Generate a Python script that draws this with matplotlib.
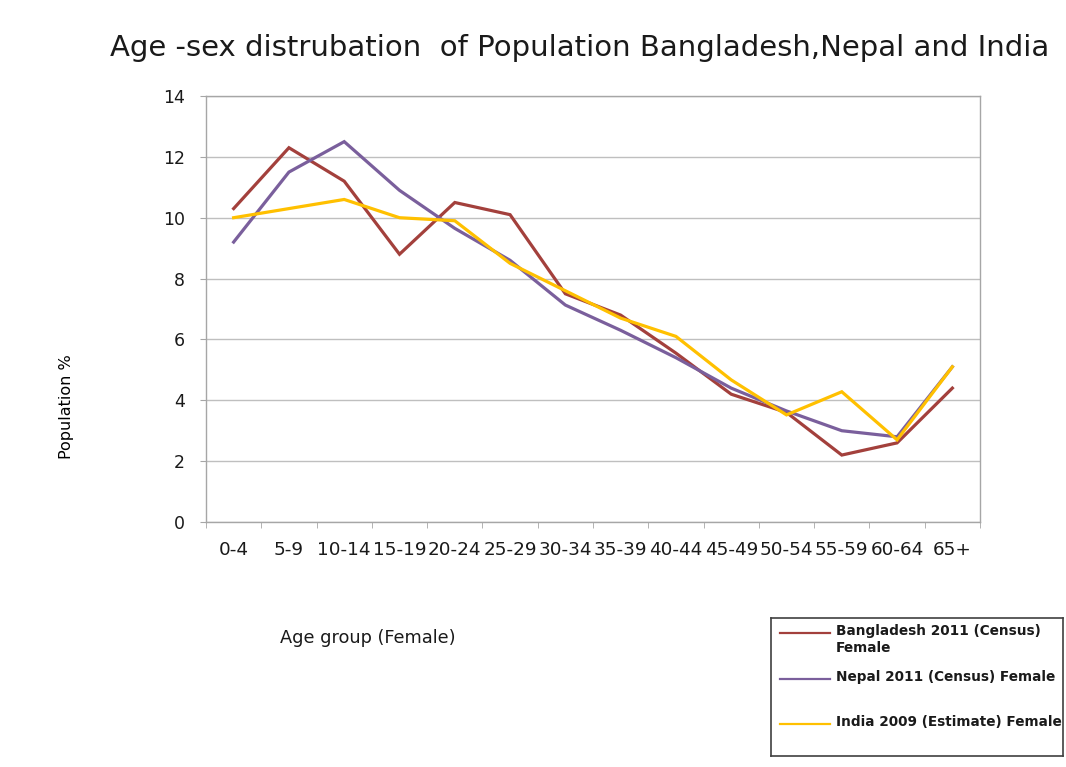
import numpy as np
import matplotlib
matplotlib.use("Agg")
import matplotlib.pyplot as plt

# Female population share (%) by five-year age group
age_groups = ["0-4", "5-9", "10-14", "15-19", "20-24", "25-29", "30-34",
              "35-39", "40-44", "45-49", "50-54", "55-59", "60-64", "65+"]
bangladesh_2011 = [10.3, 12.3, 11.2, 8.8, 10.5, 10.1, 7.5,
                   6.8, 5.55, 4.2, 3.6, 2.2, 2.6, 4.4]
nepal_2011 = [9.2, 11.5, 12.5, 10.9, 9.65, 8.6, 7.13,
              6.3, 5.4, 4.4, 3.65, 3.0, 2.8, 5.1]
india_2009 = [10.0, 10.3, 10.6, 10.0, 9.9, 8.5, 7.6,
              6.7, 6.1, 4.67, 3.52, 4.28, 2.7, 5.1]

series_labels = ["Bangladesh 2011 (Census)\nFemale",
                 "Nepal 2011 (Census) Female",
                 "India 2009 (Estimate) Female"]
series_colors = ["#A3403C", "#7A5F9C", "#FFC000"]

W, H = 1066, 767
fig = plt.figure(figsize=(W / 100, H / 100), dpi=100)
fig.patch.set_facecolor("white")

ax = fig.add_axes([206 / W, (H - 522) / H, 774 / W, 426 / H])
x = np.arange(len(age_groups))
for vals, col in zip([bangladesh_2011, nepal_2011, india_2009], series_colors):
    ax.plot(x, vals, color=col, lw=2.3, solid_joinstyle="miter")

ax.set_xlim(-0.5, len(age_groups) - 0.5)
ax.set_ylim(0, 14)
ax.set_yticks(np.arange(0, 15, 2))
ax.yaxis.grid(True, color="#BFBFBF", lw=1.0)
ax.set_axisbelow(True)
for s in ax.spines.values():
    s.set_color("#A6A6A6")
    s.set_linewidth(1.0)

ax.set_xticks(x)
ax.set_xticklabels(age_groups)
ax.set_xticks(np.arange(-0.5, len(age_groups), 1), minor=True)
ax.tick_params(axis="x", which="major", length=0, pad=14, labelsize=13.2,
               labelcolor="#1A1A1A")
ax.tick_params(axis="x", which="minor", length=4, color="#A6A6A6")
ax.tick_params(axis="y", length=4, color="#A6A6A6", pad=11, labelsize=12.5,
               labelcolor="#1A1A1A")

ax.set_ylabel("Population %", fontsize=11.5,
              family=["Liberation Sans Narrow", "DejaVu Sans"])
ax.yaxis.set_label_coords(-0.17, 0.27)
ax.set_xlabel("Age group (Female)", fontsize=12.8, color="#1A1A1A")
ax.xaxis.set_label_coords(0.209, -0.252)

fig.text(580 / W, 1 - 48 / H,
         "Age -sex distrubation  of Population Bangladesh,Nepal and India",
         ha="center", va="center", fontsize=21, color="#1A1A1A")

# legend box drawn in its own pixel-scaled axes
lax = fig.add_axes([771 / W, (H - 756) / H, 292 / W, 138 / H])
lax.set_xlim(0, 292)
lax.set_ylim(138, 0)
lax.set_xticks([])
lax.set_yticks([])
for s in lax.spines.values():
    s.set_color("#404040")
    s.set_linewidth(1.2)
for yy, lab, col in zip([15, 61, 106], series_labels, series_colors):
    lax.plot([9, 59], [yy, yy], color=col, lw=1.6)
    lax.text(65, yy - 8.5, lab, ha="left", va="top", fontsize=9.8,
             fontweight="bold", color="#1A1A1A", linespacing=1.25)

fig.savefig("out.png", dpi=100)
